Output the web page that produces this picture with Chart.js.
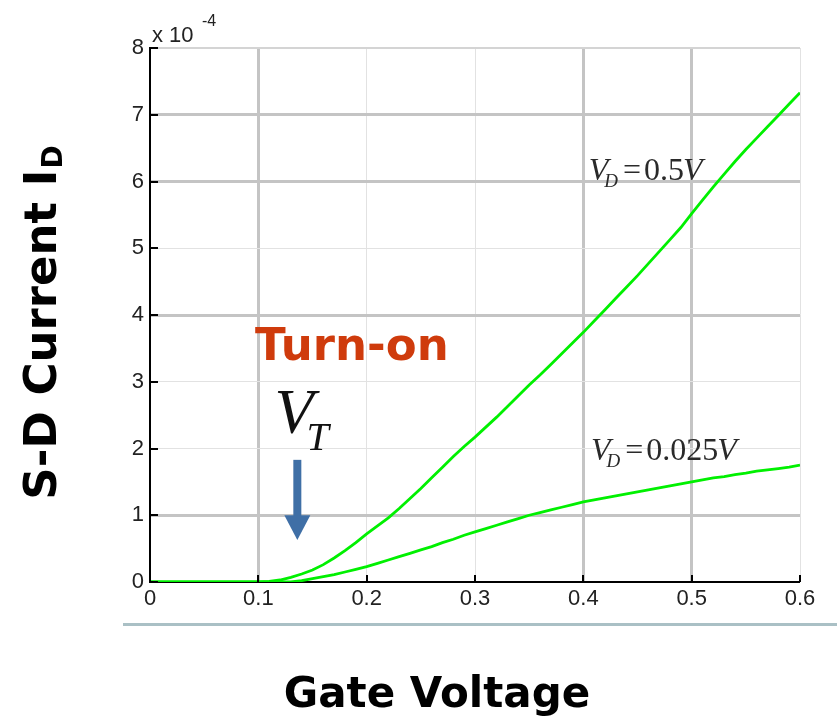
<!DOCTYPE html>
<html><head><meta charset="utf-8">
<script src="https://cdn.jsdelivr.net/npm/chart.js@4.4.0/dist/chart.umd.min.js"></script>
<style>html,body{margin:0;padding:0;background:#fff;}#wrap{width:837px;height:725px;}</style>
</head><body><div id="wrap"><canvas id="c" width="837" height="725"></canvas></div>
<script>
// Gate voltage (V)
const gateVoltage = [0.00,0.01,0.02,0.03,0.04,0.05,0.06,0.07,0.08,0.09,0.10,
  0.11,0.12,0.13,0.14,0.15,0.16,0.17,0.18,0.19,0.20,
  0.21,0.22,0.23,0.24,0.25,0.26,0.27,0.28,0.29,0.30,
  0.31,0.32,0.33,0.34,0.35,0.36,0.37,0.38,0.39,0.40,
  0.41,0.42,0.43,0.44,0.45,0.46,0.47,0.48,0.49,0.50,
  0.51,0.52,0.53,0.54,0.55,0.56,0.57,0.58,0.59,0.60];
// S-D current (x 1e-4 A), V_D = 0.5 V
const idVd05 = [0,0,0,0,0,0,0,0,0,0,0,
  0.01,0.03,0.07,0.12,0.18,0.26,0.36,0.47,0.59,0.72,
  0.84,0.96,1.10,1.25,1.40,1.56,1.72,1.88,2.03,2.17,
  2.32,2.47,2.63,2.79,2.95,3.10,3.26,3.42,3.58,3.74,
  3.91,4.08,4.25,4.42,4.59,4.77,4.95,5.13,5.31,5.52,
  5.72,5.92,6.11,6.30,6.48,6.65,6.82,6.99,7.16,7.33];
// S-D current (x 1e-4 A), V_D = 0.025 V
const idVd0025 = [0,0,0,0,0,0,0,0,0,0,0,
  0,0,0,0.02,0.05,0.08,0.11,0.15,0.19,0.23,
  0.28,0.33,0.38,0.43,0.48,0.53,0.59,0.64,0.70,0.75,
  0.80,0.85,0.90,0.95,1.00,1.04,1.08,1.12,1.16,1.20,
  1.23,1.26,1.29,1.32,1.35,1.38,1.41,1.44,1.47,1.50,
  1.53,1.56,1.58,1.61,1.63,1.66,1.68,1.70,1.72,1.75];
const xTickValues = [0,0.1,0.2,0.3,0.4,0.5,0.6];
const yTickValues = [0,1,2,3,4,5,6,7,8];
const seriesLabels = ['V_D = 0.5V','V_D = 0.025V'];
const yExponentLabel = ['x 10','-4'];
const xTitle = 'Gate Voltage';
const yTitleMain = 'S-D Current I';
const yTitleSub = 'D';
const turnOnLabel = 'Turn-on';

const decor = {
  id:'decor',
  afterDatasetsDraw(chart){
    const c = chart.ctx, xs = chart.scales.x, ys = chart.scales.y, a = chart.chartArea;
    c.save();
    // inward tick marks
    c.strokeStyle='#000'; c.lineWidth=2;
    ys.ticks.forEach(t=>{const py=Math.round(ys.getPixelForValue(t.value));
      c.beginPath(); c.moveTo(a.left,py); c.lineTo(a.left+8,py); c.stroke();});
    xs.ticks.forEach(t=>{const px=Math.round(xs.getPixelForValue(t.value));
      c.beginPath(); c.moveTo(px,a.bottom); c.lineTo(px,a.bottom-7); c.stroke();});
    // exponent label
    c.fillStyle='#222'; c.textBaseline='alphabetic'; c.textAlign='left';
    c.font='22px "Liberation Sans"';
    c.fillText(yExponentLabel[0], a.left+2, a.top-6);
    c.font='16px "Liberation Sans"';
    c.fillText(yExponentLabel[1], a.left+52, a.top-22);
    // series labels
    const drawVD = (lbl, xv, yv) => {
      const val = lbl.split('=')[1].trim().replace('V','');
      let px = xs.getPixelForValue(xv), py = ys.getPixelForValue(yv);
      c.fillStyle='#2a2a2a';
      c.font='italic 32px "Liberation Serif"'; c.fillText('V', px, py); px += c.measureText('V').width-4;
      c.font='italic 19px "Liberation Serif"'; c.fillText('D', px, py+7); px += c.measureText('D').width+5;
      c.font='32px "Liberation Serif"'; c.fillText('=', px, py); px += c.measureText('=').width+3;
      c.fillText(val, px, py); px += c.measureText(val).width-1;
      c.font='italic 32px "Liberation Serif"'; c.fillText('V', px, py);
    };
    drawVD(seriesLabels[0], 0.405, 6.02);
    drawVD(seriesLabels[1], 0.407, 1.83);
    // Turn-on
    c.fillStyle='#cf3b0c'; c.font='bold 45px "DejaVu Sans"';
    c.fillText(turnOnLabel, xs.getPixelForValue(0.097), ys.getPixelForValue(3.33));
    // V_T
    c.fillStyle='#111';
    const vx = xs.getPixelForValue(0.115), vy = ys.getPixelForValue(2.23);
    c.font='italic 64px "Liberation Serif"'; c.fillText('V', vx, vy);
    c.font='italic 40px "Liberation Serif"'; c.fillText('T', vx+32, vy+17);
    // arrow
    const ax = xs.getPixelForValue(0.136), aTop = ys.getPixelForValue(1.83),
          aBase = ys.getPixelForValue(1.0), aTip = ys.getPixelForValue(0.63);
    c.fillStyle='#3f6fa6';
    c.fillRect(ax-4, aTop, 8, aBase-aTop+1);
    c.beginPath(); c.moveTo(ax-13,aBase); c.lineTo(ax+13,aBase); c.lineTo(ax,aTip); c.closePath(); c.fill();
    c.restore();
  },
  afterDraw(chart){
    const c = chart.ctx;
    c.save();
    // bottom separator line
    c.fillStyle='#aac0c5'; c.fillRect(123,623,714,3);
    // axis titles
    c.fillStyle='#000'; c.textBaseline='alphabetic';
    c.font='bold 42px "DejaVu Sans"'; c.textAlign='center';
    c.fillText(xTitle, 437, 707);
    c.translate(56, 323); c.rotate(-Math.PI/2);
    c.font='bold 45px "DejaVu Sans"';
    const w1 = c.measureText(yTitleMain).width;
    c.font='bold 28px "DejaVu Sans"';
    const w2 = c.measureText(yTitleSub).width;
    const start = -(w1+w2)/2;
    c.textAlign='left';
    c.font='bold 45px "DejaVu Sans"'; c.fillText(yTitleMain, start, 0);
    c.font='bold 28px "DejaVu Sans"'; c.fillText(yTitleSub, start+w1+1, 6);
    c.restore();
  }
};

const xGridW = [0,3,1,1,3,3,1];
const yGridW = [0,3,1,1,3,1,3,3,2];
new Chart(document.getElementById('c').getContext('2d'), {
  type:'line',
  data:{datasets:[
    {label:seriesLabels[0], data:gateVoltage.map((x,i)=>({x, y:idVd05[i]})),
     borderColor:'#00f000', borderWidth:2.8, pointRadius:0, tension:0, fill:false},
    {label:seriesLabels[1], data:gateVoltage.map((x,i)=>({x, y:idVd0025[i]})),
     borderColor:'#00f000', borderWidth:2.8, pointRadius:0, tension:0, fill:false}
  ]},
  options:{
    responsive:false, animation:false, devicePixelRatio:1,
    layout:{padding:{left:0,right:37,top:48,bottom:0}},
    plugins:{legend:{display:false}, tooltip:{enabled:false}},
    scales:{
      x:{type:'linear', min:0, max:0.6,
        afterFit(s){s.height=143;},
        afterBuildTicks(s){s.ticks = xTickValues.map(v=>({value:v}));},
        ticks:{font:{family:'Liberation Sans', size:22}, color:'#222', padding:4, maxRotation:0, autoSkip:false,
          callback:v=>String(Number(v.toFixed(1)))},
        grid:{drawTicks:false,
          lineWidth:ctx=>xGridW[ctx.index]||0,
          color:ctx=>(xGridW[ctx.index]>=3?'#c4c4c4':'#e2e2e2')},
        border:{display:true, color:'#000', width:2}},
      y:{type:'linear', min:0, max:8,
        afterFit(s){s.width=150;},
        afterBuildTicks(s){s.ticks = yTickValues.map(v=>({value:v}));},
        ticks:{font:{family:'Liberation Sans', size:22}, color:'#222', padding:6, autoSkip:false,
          callback:v=>String(v)},
        grid:{drawTicks:false,
          lineWidth:ctx=>yGridW[ctx.index]||0,
          color:ctx=>(yGridW[ctx.index]>=3?'#c4c4c4':(yGridW[ctx.index]==2?'#d4d4d4':'#e2e2e2'))},
        border:{display:true, color:'#000', width:2}}
    }
  },
  plugins:[decor]
});
</script></body></html>
